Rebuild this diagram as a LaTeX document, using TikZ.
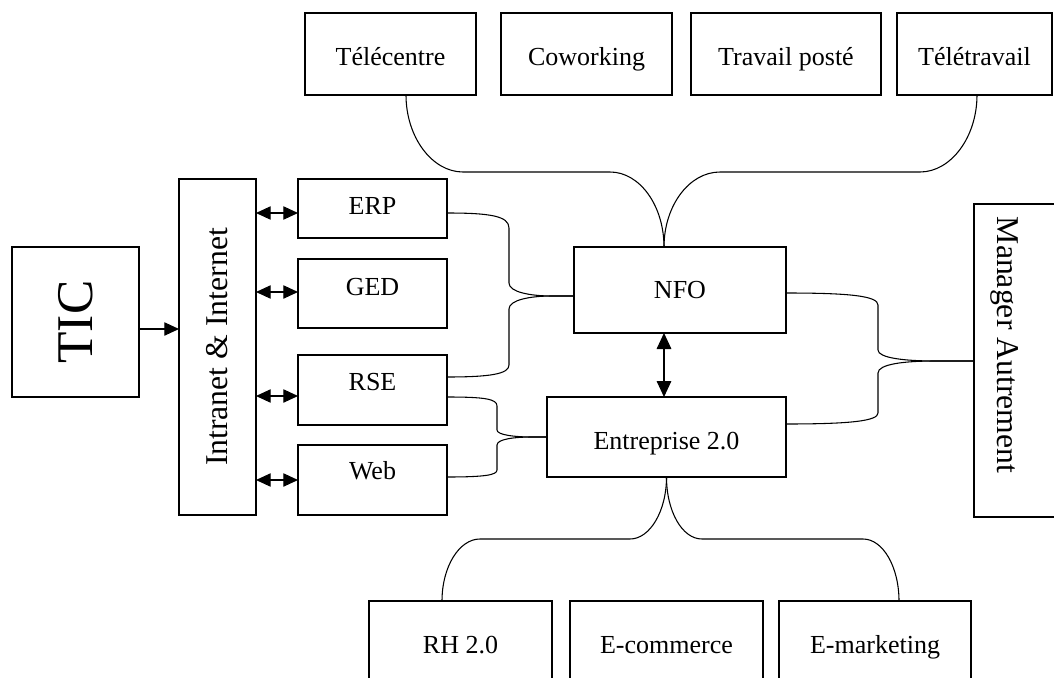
\documentclass[tikz,border=0pt]{standalone}
\usepackage{fontspec}
\setmainfont{Liberation Serif}
\usetikzlibrary{arrows.meta,calc}
\newcommand\mybox[7][txt]{\node[bx,#1,minimum width={(#5-#3)*0.75pt},minimum height={(#6-#4)*0.75pt}] (#2) at ({(#3+#5)/2},{(#4+#6)/2}) {#7};}
\newcommand\liftt[2]{\raisebox{#1}[\height][\depth]{#2}}
\begin{document}
\begin{tikzpicture}[x=0.75pt,y=-0.75pt,
  bx/.style={draw,line width=0.8pt,inner sep=0pt,outer sep=0pt,font=\fontsize{19.5}{22}\selectfont},
  txt/.style={text height=16.8pt,text depth=4pt},
  con/.style={line width=0.8pt},
  dbl/.style={line width=0.8pt,{Triangle[length=11pt,width=10pt]}-{Triangle[length=11pt,width=10pt]}},
  sgl/.style={line width=0.8pt,-{Triangle[length=11pt,width=10pt]}},
  big/.style={font=\fontsize{23.8}{26}\selectfont},
  huge/.style={font=\fontsize{38.6}{40}\selectfont}
]
\useasboundingbox (0,0) rectangle (1054,678);
\clip (0,0) rectangle (1054,678);
\fill[white] (0,0) rectangle (1054,678);

% left column
\mybox[huge]{tic}{12}{247}{139}{397}{\rotatebox{90}{TIC}}
\mybox[big]{intra}{179}{179}{256}{515}{\rotatebox{90}{Intranet \& Internet}}
\mybox{erp}{298}{179}{447}{238}{\liftt{1.9pt}{ERP}}
\mybox{ged}{298}{259}{447}{328}{\liftt{5.2pt}{GED}}
\mybox{rse}{298}{355}{447}{425}{\liftt{6pt}{RSE}}
\mybox{web}{298}{445}{447}{515}{\liftt{6.7pt}{Web}}

% top row
\mybox{telec}{305}{13}{476}{95}{\liftt{-2.6pt}{Télécentre}}
\mybox{cowork}{501}{13}{672}{95}{\liftt{-2.6pt}{Coworking}}
\mybox{poste}{691}{13}{881}{95}{\liftt{-2.6pt}{Travail posté}}
\mybox{teletr}{897}{13}{1052}{95}{\liftt{-2.6pt}{Télétravail}}

% centre
\mybox{nfo}{574}{247}{786}{333}{NFO}
\mybox{ent}{547}{397}{786}{477}{\liftt{-2.6pt}{Entreprise 2.0}}

% right
\mybox{mgr}{974}{204}{1070}{517}{}
\node[big,rotate=-90,inner sep=0pt] (mgrtxt) at (1005,345) {Manager Autrement};

% bottom row
\mybox{rh}{369}{601}{552}{690}{\liftt{0.6pt}{RH 2.0}}
\mybox{ecom}{570}{601}{763}{690}{\liftt{0.6pt}{E-commerce}}
\mybox{emark}{779}{601}{971}{690}{\liftt{0.6pt}{E-marketing}}

% arrows
\draw[sgl] (tic.east |- 0,329) -- (intra.west |- 0,329);
\draw[dbl] (intra.east |- 0,213) -- (erp.west |- 0,213);
\draw[dbl] (intra.east |- 0,292) -- (ged.west |- 0,292);
\draw[dbl] (intra.east |- 0,396) -- (rse.west |- 0,396);
\draw[dbl] (intra.east |- 0,480) -- (web.west |- 0,480);
\draw[dbl,{Triangle[length=12pt,width=11pt]}-{Triangle[length=12pt,width=11pt]}] (nfo.south -| 664,0) -- (ent.north -| 664,0);

% brace ERP/RSE -> NFO
\draw[con] (erp.east |- 0,213) .. controls (490,213) and (509,216) .. (509,228) -- (509,283)
  .. controls (509,292) and (530,296) .. (552,296) -- (nfo.west |- 0,296);
\draw[con] (nfo.west |- 0,296) -- (552,296) .. controls (530,296) and (509,300) .. (509,309)
  -- (509,365) .. controls (509,374) and (490,377) .. (rse.east |- 0,377);

% brace RSE/Web -> Entreprise
\draw[con] (rse.east |- 0,397) .. controls (485,397) and (497,399) .. (497,406) -- (497,430)
  .. controls (497,435) and (515,437) .. (532,437) -- (ent.west);
\draw[con] (ent.west) -- (532,437) .. controls (515,437) and (497,439) .. (497,445)
  -- (497,470) .. controls (497,475) and (485,477) .. (web.east |- 0,477);

% brace NFO/Entreprise -> Manager
\draw[con] (nfo.east |- 0,293) .. controls (850,293) and (878,296) .. (878,305) -- (878,350)
  .. controls (878,358) and (905,361) .. (935,361) -- (mgr.west |- 0,361);
\draw[con] (mgr.west |- 0,361) -- (935,361) .. controls (905,361) and (878,364) .. (878,373)
  -- (878,413) .. controls (878,421) and (850,424) .. (ent.east |- 0,424);

% top brace
\draw[con] (telec.south -| 406,0) .. controls (406,137) and (432,172) .. (463,172) -- (610,172)
  .. controls (640,172) and (664,206) .. (nfo.north -| 664,0);
\draw[con] (nfo.north -| 664,0) .. controls (664,206) and (689,172) .. (720,172) -- (920,172)
  .. controls (951,172) and (977,137) .. (teletr.south -| 977,0);

% bottom brace
\draw[con] (ent.south) .. controls (666.5,511) and (650,539) .. (630,539) -- (480,539)
  .. controls (459,539) and (442,567) .. (rh.north -| 442,0);
\draw[con] (ent.south) .. controls (666.5,511) and (682,539) .. (702,539) -- (863,539)
  .. controls (883,539) and (899,567) .. (emark.north -| 899,0);
\end{tikzpicture}
\end{document}
